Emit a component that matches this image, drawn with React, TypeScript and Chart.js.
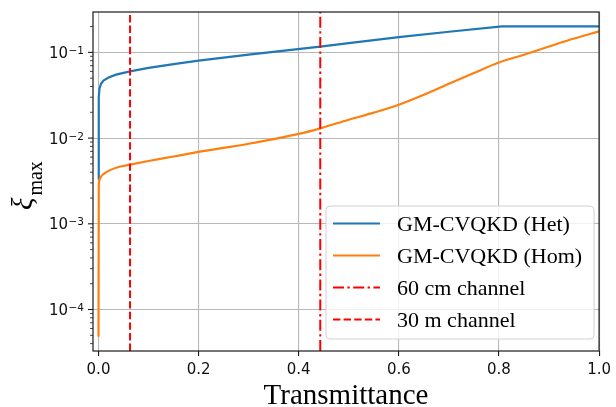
import React, { useEffect, useRef } from 'react';
import { Chart, registerables } from 'chart.js';
Chart.register(...registerables);

// ---- data ----
const hetX = [0, 0.0005, 0.002, 0.005, 0.01, 0.02, 0.035, 0.063, 0.1, 0.15, 0.2, 0.3, 0.443, 0.5, 0.6, 0.7, 0.806, 0.9, 1.0];
const hetY = [0.0033, 0.03, 0.038, 0.043, 0.047, 0.051, 0.055, 0.06, 0.066, 0.073, 0.08, 0.094, 0.117, 0.128, 0.151, 0.174, 0.201, 0.201, 0.201];
const homX = [0, 0.0005, 0.001, 0.003, 0.01, 0.022, 0.04, 0.063, 0.1, 0.15, 0.2, 0.3, 0.4, 0.443, 0.5, 0.55, 0.6, 0.65, 0.7, 0.75, 0.8, 0.85, 0.9, 0.95, 1.0];
const homY = [4.8e-5, 0.0025, 0.0031, 0.0034, 0.0038, 0.0042, 0.0046, 0.0049, 0.0054, 0.0061, 0.0069, 0.0086, 0.0112, 0.013, 0.0164, 0.0198, 0.0245, 0.032, 0.043, 0.0575, 0.0764, 0.094, 0.117, 0.145, 0.176];
const seriesNames = ['GM-CVQKD (Het)', 'GM-CVQKD (Hom)'];
const channelNames = ['60 cm channel', '30 m channel'];
const channelX = [0.443, 0.063];
const xTicks = [0, 0.2, 0.4, 0.6, 0.8, 1.0];
const yDecades = [-5, -4, -3, -2, -1];
const X_MIN = -0.011;
const X_MAX = 1.0;
const Y_MIN = 3.28e-5;
const Y_MAX = 0.296;

const BLUE = '#1f77b4';
const ORANGE = '#ff7f0e';
const RED = '#ff0000';
const DASH = [7.4, 3.2];
const DASHDOT = [11, 3.4, 2.4, 3.4];
const SPINE = '#1a1a1a';

const yTickVals: number[] = [];
yDecades.forEach((d) => {
  for (let m = 1; m <= 9; m++) {
    const v = m * Math.pow(10, d);
    if (v >= Y_MIN && v <= Y_MAX) yTickVals.push(v);
  }
});
const isMajor = (v: number) => Math.abs(Math.log10(v) - Math.round(Math.log10(v))) < 1e-9;

const decor = {
  id: 'decor',
  afterDatasetsDraw(chart: any) {
    const { ctx, chartArea: a } = chart;
    const ys = chart.scales.y;
    ctx.save();
    // frame
    ctx.strokeStyle = SPINE;
    ctx.lineWidth = 1.2;
    ctx.strokeRect(a.left, a.top, a.right - a.left, a.bottom - a.top);
    // y ticks + labels
    ys.ticks.forEach((t: any) => {
      const y = ys.getPixelForValue(t.value);
      const major = isMajor(t.value);
      ctx.beginPath();
      ctx.lineWidth = major ? 1.1 : 0.8;
      ctx.moveTo(a.left - (major ? 5 : 3), y);
      ctx.lineTo(a.left, y);
      ctx.stroke();
      if (major) {
        const exp = Math.round(Math.log10(t.value));
        const sup = '\u2212' + String(Math.abs(exp));
        ctx.fillStyle = '#111';
        ctx.textBaseline = 'alphabetic';
        ctx.textAlign = 'right';
        ctx.font = '10.5px "DejaVu Sans"';
        const right = a.left - 9;
        ctx.fillText(sup, right, y + 1.5);
        const sw = ctx.measureText(sup).width;
        ctx.font = '15px "DejaVu Sans"';
        ctx.fillText('10', right - sw - 0.5, y + 5.5);
      }
    });
    // x title
    ctx.fillStyle = '#000';
    ctx.textAlign = 'center';
    ctx.textBaseline = 'alphabetic';
    ctx.font = '29px "Liberation Serif"';
    ctx.fillText('Transmittance', (a.left + a.right) / 2, 404);
    // y title (rotated): xi_max
    ctx.save();
    ctx.translate(32, 210);
    ctx.rotate(-Math.PI / 2);
    ctx.textAlign = 'left';
    ctx.font = 'italic 29px "Liberation Serif"';
    ctx.fillText('\u03BE', 0, 0);
    const xw = ctx.measureText('\u03BE').width;
    ctx.font = '20px "Liberation Serif"';
    ctx.fillText('max', xw + 2, 10);
    ctx.restore();
    ctx.restore();
  },
  afterDraw(chart: any) {
    const { ctx } = chart;
    const ds = chart.data.datasets;
    ctx.save();
    // legend frame
    const bx = 326, by = 206, bw = 268, bh = 133, r = 4;
    ctx.beginPath();
    ctx.moveTo(bx + r, by);
    ctx.lineTo(bx + bw - r, by);
    ctx.quadraticCurveTo(bx + bw, by, bx + bw, by + r);
    ctx.lineTo(bx + bw, by + bh - r);
    ctx.quadraticCurveTo(bx + bw, by + bh, bx + bw - r, by + bh);
    ctx.lineTo(bx + r, by + bh);
    ctx.quadraticCurveTo(bx, by + bh, bx, by + bh - r);
    ctx.lineTo(bx, by + r);
    ctx.quadraticCurveTo(bx, by, bx + r, by);
    ctx.closePath();
    ctx.fillStyle = 'rgba(255,255,255,0.8)';
    ctx.fill();
    ctx.strokeStyle = '#d0d0d0';
    ctx.lineWidth = 1;
    ctx.stroke();
    const rows = [0, 1, 2, 3];
    rows.forEach((i) => {
      const d = ds[i];
      const cy = 223.5 + i * 32;
      ctx.beginPath();
      ctx.strokeStyle = d.borderColor;
      ctx.lineWidth = d.borderWidth;
      ctx.setLineDash(d.borderDash || []);
      ctx.moveTo(333, cy);
      ctx.lineTo(380, cy);
      ctx.stroke();
      ctx.setLineDash([]);
      ctx.fillStyle = '#000';
      ctx.font = '22px "Liberation Serif"';
      ctx.textAlign = 'left';
      ctx.textBaseline = 'alphabetic';
      ctx.fillText(d.label, 397, cy + 7.3);
    });
    ctx.restore();
  },
};

export default function App() {
  const ref = useRef<HTMLCanvasElement | null>(null);
  useEffect(() => {
    if (!ref.current) return;
    const chart = new Chart(ref.current, {
      type: 'line',
      data: {
        datasets: [
          {
            label: seriesNames[0],
            data: hetX.map((x, i) => ({ x, y: hetY[i] })),
            borderColor: BLUE,
            borderWidth: 2.2,
            pointRadius: 0,
            tension: 0,
            order: 4,
          },
          {
            label: seriesNames[1],
            data: homX.map((x, i) => ({ x, y: homY[i] })),
            borderColor: ORANGE,
            borderWidth: 2.2,
            pointRadius: 0,
            cubicInterpolationMode: 'monotone',
            order: 3,
          },
          {
            label: channelNames[0],
            data: [{ x: channelX[0], y: Y_MIN }, { x: channelX[0], y: Y_MAX }],
            borderColor: RED,
            borderWidth: 2,
            borderDash: DASHDOT,
            pointRadius: 0,
            order: 2,
          },
          {
            label: channelNames[1],
            data: [{ x: channelX[1], y: Y_MIN }, { x: channelX[1], y: Y_MAX }],
            borderColor: RED,
            borderWidth: 2,
            borderDash: DASH,
            pointRadius: 0,
            order: 1,
          },
        ],
      },
      options: {
        animation: false,
        responsive: false,
        devicePixelRatio: 1,
        layout: { padding: { top: 12, right: 10, left: 0, bottom: 0 } },
        plugins: { legend: { display: false }, tooltip: { enabled: false } },
        scales: {
          x: {
            type: 'linear',
            min: X_MIN,
            max: X_MAX,
            afterBuildTicks: (s: any) => {
              s.ticks = xTicks.map((v) => ({ value: v }));
            },
            afterFit: (s: any) => {
              s.height = 56;
            },
            ticks: {
              font: { family: 'DejaVu Sans', size: 15 },
              color: '#111',
              padding: 5,
              maxRotation: 0,
              autoSkip: false,
              callback: (v: any) => Number(v).toFixed(1),
            },
            grid: {
              color: '#b8b8b8',
              lineWidth: 1.1,
              drawTicks: true,
              tickLength: 5,
              tickColor: SPINE,
              tickWidth: 1.1,
            },
            border: { display: false },
          },
          y: {
            type: 'logarithmic',
            min: Y_MIN,
            max: Y_MAX,
            afterBuildTicks: (s: any) => {
              s.ticks = yTickVals.map((v) => ({ value: v }));
            },
            afterFit: (s: any) => {
              s.width = 93;
            },
            ticks: { display: false },
            grid: {
              color: (c: any) => (c.tick && isMajor(c.tick.value) ? '#b8b8b8' : 'rgba(0,0,0,0)'),
              lineWidth: 1.1,
              drawTicks: false,
            },
            border: { display: false },
          },
        },
      },
      plugins: [decor],
    } as any);
    return () => chart.destroy();
  }, []);
  return (
    <div style={{ position: 'fixed', left: 0, top: 0, width: 616, height: 407, background: '#fff' }}>
      <canvas ref={ref} width={616} height={407} style={{ width: 616, height: 407, display: 'block' }} />
    </div>
  );
}
